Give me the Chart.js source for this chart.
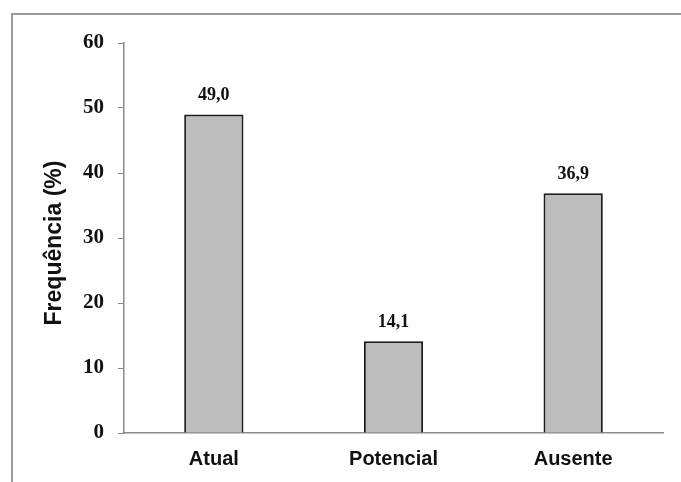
<!DOCTYPE html>
<html>
<head>
<meta charset="utf-8">
<script src="https://cdn.jsdelivr.net/npm/chart.js@4/dist/chart.umd.min.js"></script>
<style>
html,body{margin:0;padding:0;background:#fff;}
#wrap{width:681px;height:482px;position:relative;}
</style>
</head>
<body>
<div id="wrap"><canvas id="c" width="681" height="482"></canvas></div>
<script>
const categories = ["Atual", "Potencial", "Ausente"];
const frequencia = [49.0, 14.1, 36.9];
const valueLabels = ["49,0", "14,1", "36,9"];
const yTicks = [0, 10, 20, 30, 40, 50, 60];
const yTitle = "Frequência (%)";

const SANS = "'Liberation Sans', Arial, sans-serif";
const SERIF = "'Liberation Serif', 'Times New Roman', serif";

const framePlugin = {
  id: 'frame',
  beforeDraw(chart) {
    const ctx = chart.ctx;
    ctx.save();
    ctx.strokeStyle = '#9a9a9a';
    ctx.lineWidth = 2;
    ctx.beginPath();
    ctx.moveTo(12, 482);
    ctx.lineTo(12, 14);
    ctx.lineTo(681, 14);
    ctx.stroke();
    ctx.restore();
  }
};

const titlePlugin = {
  id: 'yTitle',
  afterDraw(chart) {
    const ctx = chart.ctx;
    ctx.save();
    ctx.translate(55, 243);
    ctx.rotate(-Math.PI / 2);
    ctx.font = "bold 23px " + SANS;
    ctx.fillStyle = '#111';
    ctx.textAlign = 'center';
    ctx.textBaseline = 'middle';
    ctx.fillText(yTitle, 0, 0);
    ctx.restore();
  }
};

const labelPlugin = {
  id: 'valueLabels',
  afterDatasetsDraw(chart) {
    const ctx = chart.ctx;
    const meta = chart.getDatasetMeta(0);
    ctx.save();
    ctx.font = "bold 18px " + SERIF;
    ctx.fillStyle = '#111';
    ctx.textAlign = 'center';
    ctx.textBaseline = 'middle';
    meta.data.forEach((bar, i) => {
      ctx.fillText(valueLabels[i], bar.x, bar.y - 19);
    });
    ctx.restore();
  }
};

new Chart(document.getElementById('c'), {
  type: 'bar',
  data: {
    labels: categories,
    datasets: [{
      data: frequencia,
      backgroundColor: '#bdbdbd',
      borderColor: '#1c1c1c',
      borderWidth: 2,
      borderSkipped: 'bottom',
      categoryPercentage: 1,
      barPercentage: 0.33
    }]
  },
  options: {
    responsive: false,
    animation: false,
    devicePixelRatio: 1,
    layout: { padding: { top: 43, right: 18, left: 0, bottom: 0 } },
    plugins: { legend: { display: false }, tooltip: { enabled: false } },
    scales: {
      x: {
        grid: { display: true, drawOnChartArea: false, drawTicks: false },
        border: { display: true, color: '#8a8a8a', width: 1.5 },
        ticks: { color: '#111', font: { family: SANS, weight: 'bold', size: 20 }, padding: 14 },
        afterFit(s) { s.height = 49; }
      },
      y: {
        min: 0, max: 60,
        afterBuildTicks(s) { s.ticks = yTicks.map(v => ({ value: v })); },
        grid: { display: true, drawOnChartArea: false, drawTicks: true, tickLength: 6, color: '#8a8a8a' },
        border: { display: true, color: '#8a8a8a', width: 1.5 },
        ticks: { color: '#111', font: { family: SERIF, weight: 'bold', size: 21 }, padding: 14 },
        title: { display: false },
        afterFit(s) { s.width = 124; }
      }
    }
  },
  plugins: [framePlugin, labelPlugin, titlePlugin]
});
</script>
</body>
</html>
